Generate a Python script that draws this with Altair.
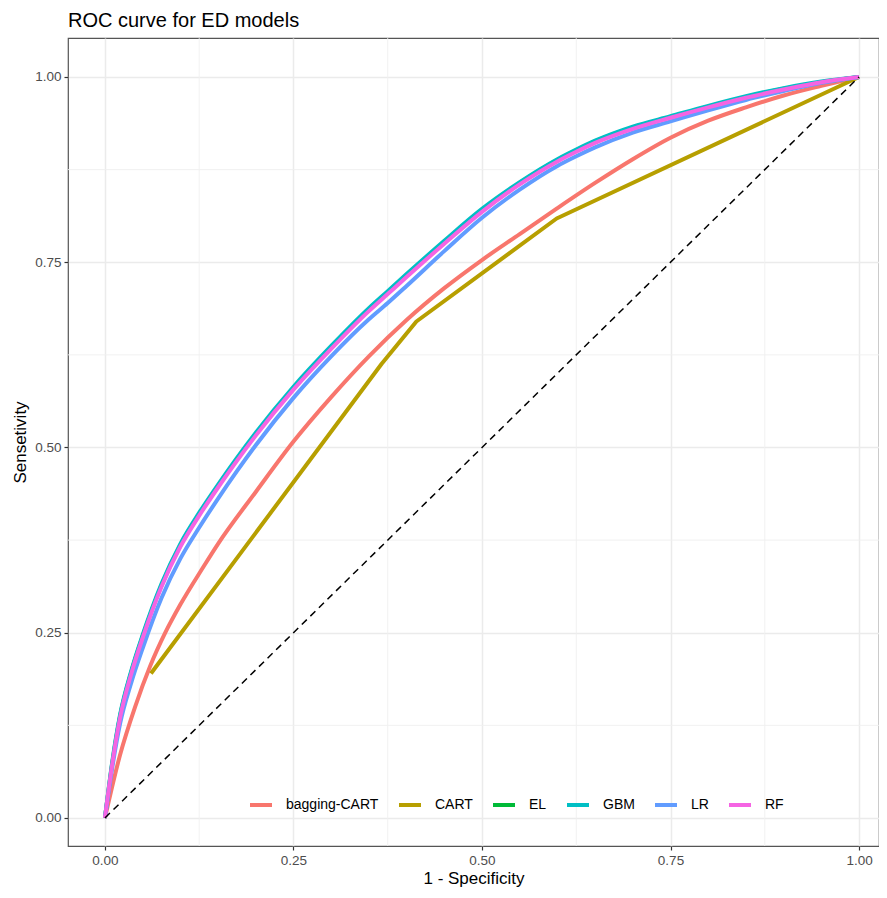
import altair as alt
import pandas as pd

# ---------------- data ----------------
model_names = ["bagging-CART", "CART", "EL", "GBM", "LR", "RF"]
model_colors = ["#F8766D", "#B79F00", "#00BA38", "#00BFC4", "#619CFF", "#F564E3"]

fpr_bagging = [0, 0.02, 0.04, 0.06, 0.08, 0.10, 0.13, 0.15, 0.20, 0.25, 0.30, 0.35, 0.40,
               0.45, 0.50, 0.55, 0.60, 0.65, 0.70, 0.75, 0.80, 0.85, 0.90, 0.95, 1.0]
tpr_bagging = [0, 0.085, 0.150, 0.205, 0.250, 0.288, 0.338, 0.370, 0.440, 0.508, 0.568, 0.623, 0.672,
               0.715, 0.753, 0.788, 0.823, 0.857, 0.889, 0.918, 0.941, 0.959, 0.975, 0.988, 1.0]

fpr_cart = [0.061, 0.367, 0.413, 0.599, 1.0]
tpr_cart = [0.195, 0.613, 0.670, 0.809, 1.0]

fpr_grid = [0, 0.01, 0.02, 0.035, 0.05, 0.075, 0.10, 0.125, 0.15, 0.175, 0.20, 0.25, 0.30, 0.35,
            0.375, 0.40, 0.45, 0.50, 0.55, 0.60, 0.625, 0.65, 0.70, 0.75, 0.80, 0.85, 0.90, 0.95, 1.0]
tpr_el = [0, 0.076, 0.137, 0.197, 0.245, 0.314, 0.368, 0.410, 0.448, 0.484, 0.518, 0.580, 0.635, 0.686,
          0.709, 0.732, 0.777, 0.820, 0.857, 0.888, 0.901, 0.913, 0.932, 0.946, 0.960, 0.973, 0.984, 0.993, 1.0]
tpr_gbm = [0, 0.078, 0.139, 0.199, 0.247, 0.316, 0.370, 0.412, 0.450, 0.486, 0.520, 0.582, 0.637, 0.688,
           0.711, 0.734, 0.779, 0.822, 0.858, 0.889, 0.902, 0.914, 0.933, 0.947, 0.961, 0.974, 0.985, 0.994, 1.0]
tpr_lr = [0, 0.070, 0.127, 0.183, 0.229, 0.297, 0.350, 0.392, 0.431, 0.468, 0.503, 0.567, 0.623, 0.673,
          0.695, 0.718, 0.765, 0.810, 0.848, 0.880, 0.893, 0.905, 0.925, 0.940, 0.955, 0.969, 0.981, 0.992, 1.0]
tpr_rf = [0, 0.075, 0.135, 0.195, 0.243, 0.312, 0.366, 0.408, 0.446, 0.482, 0.516, 0.578, 0.633, 0.684,
          0.707, 0.730, 0.775, 0.818, 0.855, 0.886, 0.899, 0.911, 0.930, 0.945, 0.959, 0.972, 0.983, 0.993, 1.0]

ref_fpr = [0.0, 1.0]
ref_tpr = [0.0, 1.0]

major_ticks = [0, 0.25, 0.5, 0.75, 1.0]
minor_ticks = [0.125, 0.375, 0.625, 0.875]

# ---------------- tables ----------------
series = [
    ("bagging-CART", fpr_bagging, tpr_bagging),
    ("CART", fpr_cart, tpr_cart),
    ("EL", fpr_grid, tpr_el),
    ("GBM", fpr_grid, tpr_gbm),
    ("LR", fpr_grid, tpr_lr),
    ("RF", fpr_grid, tpr_rf),
]
rows = []
for name, fs, ts in series:
    for i, (f, t) in enumerate(zip(fs, ts)):
        rows.append({"model": name, "fpr": f, "tpr": t, "ord": i})
df = pd.DataFrame(rows)
df_bag = df[df["model"] == "bagging-CART"]
df_cart = df[df["model"] == "CART"]
df_rest = df[~df["model"].isin(["bagging-CART", "CART"])]
ref_df = pd.DataFrame({"fpr": ref_fpr, "tpr": ref_tpr})
minor_x_df = pd.DataFrame({"fpr": minor_ticks})
minor_y_df = pd.DataFrame({"tpr": minor_ticks})

FONT = "Liberation Sans"

xscale = alt.Scale(domain=[-0.049, 1.0265], nice=False, zero=False)
yscale = alt.Scale(domain=[-0.0378, 1.0526], nice=False, zero=False)

axis_common = dict(
    values=major_ticks, format=".2f", grid=True, gridColor="#EBEBEB", gridWidth=1.5,
    domain=False, ticks=True, tickColor="#333333", tickSize=4, tickWidth=1.2,
    labelFontSize=13.5, labelColor="#4D4D4D", labelPadding=3, labelFont=FONT,
    labelFlush=False, titleFontSize=17, titleFontWeight="normal", titleColor="black",
    titleFont=FONT, titlePadding=4,
)


def X():
    return alt.X("fpr:Q", scale=xscale, axis=alt.Axis(title="1 - Specificity", **axis_common))


def Y():
    return alt.Y("tpr:Q", scale=yscale,
                 axis=alt.Axis(title="Sensetivity", **{**axis_common, "titlePadding": 5}))


def C():
    return alt.Color(
        "model:N",
        scale=alt.Scale(domain=model_names, range=model_colors),
        legend=alt.Legend(
            title=None, orient="none", direction="horizontal", legendX=180, legendY=754,
            symbolType="stroke", symbolSize=484, symbolStrokeWidth=4,
            labelFontSize=14, labelColor="black", labelFont=FONT,
            labelOffset=12, columnPadding=12, padding=0,
        ),
    )


minor_x = alt.Chart(minor_x_df).mark_rule(color="#EFEFEF", strokeWidth=0.9).encode(x=X())
minor_y = alt.Chart(minor_y_df).mark_rule(color="#EFEFEF", strokeWidth=0.9).encode(y=Y())

line_bag = alt.Chart(df_bag).mark_line(strokeWidth=4, interpolate="monotone").encode(
    x=X(), y=Y(), order="ord:Q", color=C()
)
line_cart = alt.Chart(df_cart).mark_line(strokeWidth=4, strokeJoin="round").encode(
    x=X(), y=Y(), order="ord:Q", color=C()
)
line_rest = alt.Chart(df_rest).mark_line(strokeWidth=4, interpolate="monotone").encode(
    x=X(), y=Y(), order="ord:Q", color=C()
)

diag = alt.Chart(ref_df).mark_line(color="black", strokeWidth=1.5, strokeDash=[7, 5]).encode(
    x=X(), y=Y()
)

chart = alt.layer(minor_x, minor_y, line_bag, line_cart, line_rest, diag).properties(
    width=811,
    height=808,
    title=alt.TitleParams(
        "ROC curve for ED models", anchor="start", fontSize=20, fontWeight="normal",
        font=FONT, color="black", offset=7, frame="group",
    ),
    autosize=alt.AutoSizeParams(type="none"),
    padding={"left": 60, "top": 30, "right": 0, "bottom": 42},
).configure_view(stroke="#555555", strokeWidth=1.2)

chart.save("out.html", embed_options={"renderer": "svg", "actions": False})
